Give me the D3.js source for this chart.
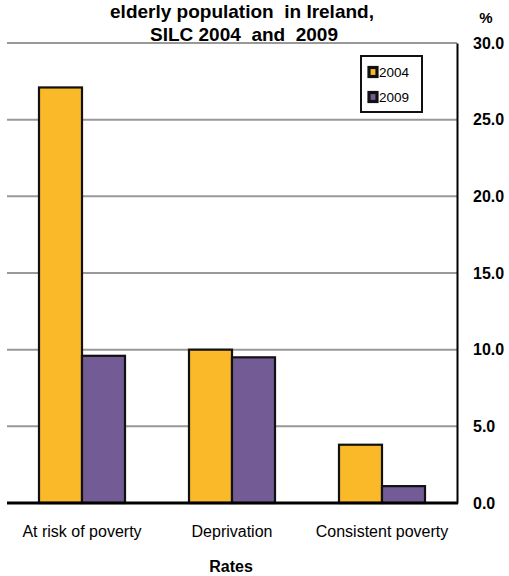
<!DOCTYPE html>
<html>
<head>
<meta charset="utf-8">
<script src="https://cdn.jsdelivr.net/npm/d3@7"></script>
<style>
  html, body { margin: 0; padding: 0; background: #fff; }
  svg { display: block; font-family: "Liberation Sans", Arial, sans-serif; }
  text { white-space: pre; }
</style>
</head>
<body>
<svg id="chart" width="509" height="576"></svg>
<script>
// Poverty rates for the elderly, SILC 2004 vs 2009
const categories = ["At risk of poverty", "Deprivation", "Consistent poverty"];
const seriesNames = ["2004", "2009"];
const values2004 = [27.1, 10.0, 3.8];
const values2009 = [9.6, 9.5, 1.1];
const tickValues = [0, 5, 10, 15, 20, 25, 30];
const colors = ["#F9B928", "#735C96"];

const svg = d3.select("#chart");
const plot = { left: 7, right: 457, top: 43, bottom: 503 };

const x = d3.scaleBand().domain(categories).range([plot.left, plot.right]).paddingInner(0).paddingOuter(0);
const xSub = d3.scaleBand().domain(seriesNames).range([0, x.bandwidth()]).paddingInner(0).paddingOuter(0.744);
const y = d3.scaleLinear().domain([0, 30]).range([plot.bottom, plot.top]);

// gridlines
svg.append("g")
  .selectAll("line")
  .data(tickValues.filter(d => d > 0))
  .join("line")
  .attr("x1", plot.left).attr("x2", plot.right)
  .attr("y1", d => y(d)).attr("y2", d => y(d))
  .attr("stroke", "#999").attr("stroke-width", 2);

// bars
const rows = categories.map((c, i) => ({ cat: c, vals: [values2004[i], values2009[i]] }));
const groups = svg.append("g").selectAll("g")
  .data(rows).join("g")
  .attr("transform", d => `translate(${x(d.cat)},0)`);
groups.selectAll("rect")
  .data(d => d.vals.map((v, j) => ({ key: seriesNames[j], v, j })))
  .join("rect")
  .attr("x", d => xSub(d.key))
  .attr("width", xSub.bandwidth())
  .attr("y", d => y(d.v))
  .attr("height", d => y(0) - y(d.v))
  .attr("fill", d => colors[d.j])
  .attr("stroke", "#111")
  .attr("stroke-width", 2.2);

// right value axis
const yAxis = d3.axisRight(y).tickValues(tickValues).tickFormat(d3.format(".1f")).tickSize(0).tickPadding(16);
const ya = svg.append("g").attr("transform", `translate(${plot.right},0)`).call(yAxis);
ya.select(".domain").attr("stroke", "#000").attr("stroke-width", 2);
ya.selectAll("text").attr("font-size", 16).attr("font-weight", "bold").attr("fill", "#000")
  .attr("font-family", "Liberation Sans, Arial, sans-serif");

// category axis
const xAxis = d3.axisBottom(x).tickSize(0).tickPadding(23);
const xa = svg.append("g").attr("transform", `translate(0,${plot.bottom})`).call(xAxis);
xa.select(".domain").attr("stroke", "#000").attr("stroke-width", 3).attr("d", `M${plot.left},0H${plot.right + 1}`);
xa.selectAll("text").attr("font-size", 16).attr("fill", "#000")
  .attr("font-family", "Liberation Sans, Arial, sans-serif");

// titles
svg.append("text").attr("x", 242).attr("y", 18).attr("text-anchor", "middle")
  .attr("font-size", 19).attr("font-weight", "bold").text("elderly population  in Ireland,");
svg.append("text").attr("x", 244).attr("y", 41).attr("text-anchor", "middle")
  .attr("font-size", 19).attr("font-weight", "bold").text("SILC 2004  and  2009");
svg.append("text").attr("x", 486).attr("y", 23).attr("text-anchor", "middle")
  .attr("font-size", 15).attr("font-weight", "bold").text("%");
svg.append("text").attr("x", 231).attr("y", 572).attr("text-anchor", "middle")
  .attr("font-size", 16).attr("font-weight", "bold").text("Rates");

// legend
const legend = svg.append("g").attr("transform", "translate(361,56)");
legend.append("rect").attr("width", 61).attr("height", 56)
  .attr("fill", "#fff").attr("stroke", "#111").attr("stroke-width", 2);
const items = legend.selectAll("g.item").data(seriesNames).join("g")
  .attr("class", "item")
  .attr("transform", (d, i) => `translate(8,${16 + i * 25})`);
items.append("rect").attr("x", 0).attr("y", -4.5).attr("width", 8).attr("height", 9)
  .attr("fill", (d, i) => colors[i]).attr("stroke", "#111").attr("stroke-width", 3.2);
items.append("text").attr("x", 10).attr("y", 5).attr("font-size", 13.5).text(d => d);
</script>
</body>
</html>
